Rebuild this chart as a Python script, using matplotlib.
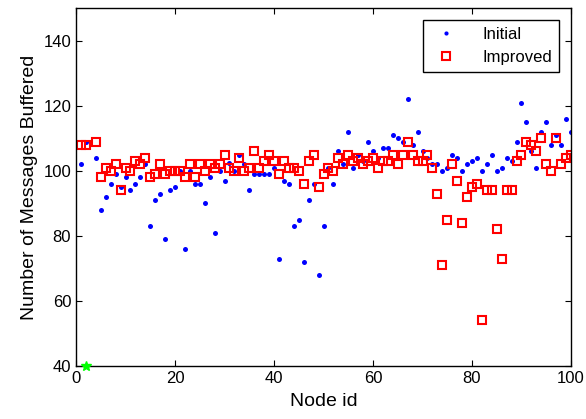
import numpy as np
from matplotlib import pyplot as plt

plt.rcParams['font.family'] = ['Liberation Sans', 'DejaVu Sans']

node_id = np.arange(1, 101)

initial = [102, 109, np.nan, 104, 88, 92, 96, 99, 95, 98,
           94, 96, 98, 102, 83, 91, 93, 79, 94, 95,
           100, 76, 100, 96, 96, 90, 98, 81, 100, 97,
           102.5, 100, 105, 102, 94, 99, 99, 99, 99, 101,
           73, 97, 96, 83, 85, 72, 91, 96, 68, 83,
           101, 96, 106, 102, 112, 101, 105, 103, 109, 106,
           104, 107, 107, 111, 110, 109, 122, 108, 112, 106,
           104, 102, 102, 100, 101, 105, 104, 100, 102, 103,
           104, 100, 102, 105, 100, 101, 104, 103, 109, 121,
           115, 106, 101, 112, 115, 108, 111, 108, 116, 112]

improved = [108, 108, np.nan, 109, 98, 101, 100, 102, 94, 101,
            100, 103, 102, 104, 98, 99, 102, 99, 100, 100,
            100, 98, 102, 98, 102, 100, 102, 101, 102, 105,
            101, 100, 104, 100, 101, 106, 101, 103, 105, 103,
            99, 103, 101, 101, 100, 96, 103, 105, 95, 99,
            101, 100, 104, 102, 105, 103, 104, 102, 103, 104,
            101, 103, 103, 105, 102, 105, 109, 105, 103, 103,
            105, 101, 93, 71, 85, 102, 97, 84, 92, 95,
            96, 54, 94, 94, 82, 73, 94, 94, 103, 105,
            109, 108, 106, 110, 102, 100, 110, 102, 104, 105]

# single green marker sitting on the x axis
start_x = [2]
start_y = [40]

fig = plt.figure(figsize=(5.86, 4.19), dpi=100)
ax = fig.add_axes([0.1297, 0.1265, 0.8447, 0.854])

ax.plot(node_id, initial, 'o', color='#0000ff', markersize=3.6,
        markeredgewidth=0, label='Initial')
ax.plot(node_id, improved, 's', markerfacecolor='none',
        markeredgecolor='#ff0000', markeredgewidth=1.5, markersize=6.2,
        label='Improved')
ax.plot(start_x, start_y, '*', color='#00ff00', markersize=7,
        clip_on=False, zorder=5)

ax.set_xlim(0, 100)
ax.set_ylim(40, 150)
ax.set_xticks([0, 20, 40, 60, 80, 100])
ax.set_yticks([40, 60, 80, 100, 120, 140])
ax.tick_params(direction='in', top=True, right=True, labelsize=12,
               length=4, width=0.8)
for s in ax.spines.values():
    s.set_linewidth(1.0)

ax.set_xlabel('Node id', fontsize=14, labelpad=5)
ax.set_ylabel('Number of Messages Buffered', fontsize=14, labelpad=4)

leg = ax.legend(loc='upper right', fontsize=12, fancybox=False,
                edgecolor='black', framealpha=1, borderaxespad=0.7,
                handletextpad=1.2, numpoints=1)
leg.get_frame().set_linewidth(1.0)
leg.legend_handles[0].set_markersize(3)

fig.savefig('out.png', dpi=100)
